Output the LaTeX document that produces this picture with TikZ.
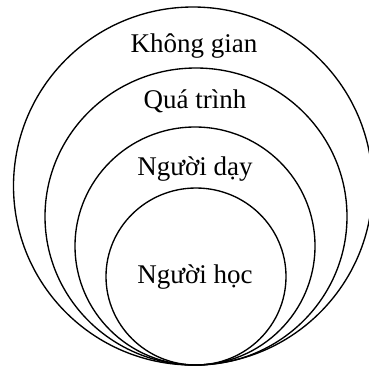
\documentclass[tikz,border=0pt]{standalone}
\usepackage{fontspec}
\setmainfont{Liberation Serif}
\begin{document}
\begin{tikzpicture}[x=1pt,y=-1pt,
  ring/.style={draw=black,line width=1.35pt},
  lbl/.style={anchor=base,inner sep=0pt,font=\fontsize{27}{30}\selectfont}]
\useasboundingbox (0,0) rectangle (369,368);
\begin{scope}
\clip (0,0) rectangle (369,368);
\draw[ring] (193,186) ellipse [x radius=179.5, y radius=179];
\draw[ring] (196,216.5) ellipse [x radius=151, y radius=148.5];
\draw[ring] (195,246) ellipse [x radius=120, y radius=119];
\draw[ring] (196,276.5) ellipse [x radius=90, y radius=88.5];
\end{scope}
\node[lbl] (k) at (194,52.5) {Không gian};
\node[lbl] (q) at (195,108) {Quá trình};
\node[lbl] (d) at (195,175) {Người dạy};
\node[lbl] (h) at (195,283) {Người học};
\end{tikzpicture}
\end{document}
